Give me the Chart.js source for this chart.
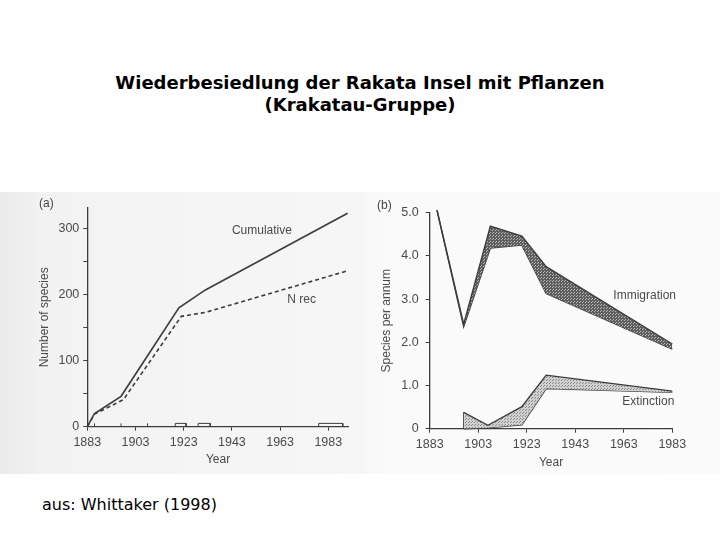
<!DOCTYPE html>
<html><head><meta charset="utf-8">
<script src="https://cdn.jsdelivr.net/npm/chart.js@4.4.1/dist/chart.umd.min.js"></script>
<style>
html,body{margin:0;padding:0;background:#fff;width:720px;height:540px;overflow:hidden}
#title{position:absolute;left:0;top:72px;width:720px;text-align:center;font-family:"DejaVu Sans";font-weight:bold;font-size:18px;line-height:22px;color:#000}
#scan{position:absolute;left:0;top:192px;width:720px;height:282px;background:linear-gradient(to right,#ebebeb 0%,#f2f2f2 6%,#f5f5f5 30%,#f6f6f6 50%,#fafafa 53%,#fbfbfb 100%)}
#wa{position:absolute;left:0;top:192px;width:360px;height:282px}
#wb{position:absolute;left:360px;top:192px;width:360px;height:282px}
.tag{position:absolute;font-family:"Liberation Sans";font-size:12px;color:#444}
#src{position:absolute;left:42px;top:495px;font-family:"DejaVu Sans";font-size:16px;color:#000}
</style></head>
<body>
<div id="title">Wiederbesiedlung der Rakata Insel mit Pflanzen<br>(Krakatau-Gruppe)</div>
<div id="scan"></div>
<div id="wa"><canvas id="ca" width="360" height="282"></canvas></div>
<div id="wb"><canvas id="cb" width="360" height="282"></canvas></div>
<div class="tag" style="left:39px;top:196px">(a)</div>
<div class="tag" style="left:377px;top:198px">(b)</div>
<div id="src">aus: Whittaker (1998)</div>
<script>
// ---------- Panel (a): number of species ----------
const cumYears   = [1883, 1886, 1897, 1921, 1932, 1991];
const cumValues  = [0, 20, 46, 180, 207, 323];
const nrecYears  = [1883, 1886, 1898, 1922, 1932, 1991];
const nrecValues = [0, 19, 41, 167, 173, 236];
const surveyTickYears = [1886, 1897, 1908];
const surveyStart = [1919.5, 1929, 1979];
const surveyEnd   = [1924, 1934, 1989];
const surveyMarkHeight = 5;
const yearTicks = [1883, 1903, 1923, 1943, 1963, 1983];
const speciesTicks = [0, 50, 100, 150, 200, 250, 300];

// ---------- Panel (b): species per annum ----------
const immYears = [1886, 1897, 1908, 1921, 1931, 1983];
const immUpper = [5.06, 2.42, 4.69, 4.46, 3.75, 1.96];
const immLower = [5.06, 2.36, 4.18, 4.25, 3.13, 1.84];
const extYears = [1897, 1907, 1921, 1931, 1983];
const extUpper = [0.38, 0.08, 0.51, 1.24, 0.87];
const extLower = [0, 0.02, 0.09, 0.93, 0.84];
const rateTicks = [0, 1, 2, 3, 4, 5];

const ink = '#3c3c3c';
const txt = '#4a4a4a';
const FONT = 'Liberation Sans';

function pts(xs, ys){ return xs.map((x,i)=>({x:x,y:ys[i]})); }
function pattern(bg, dot){
  const c=document.createElement('canvas'); c.width=3; c.height=3;
  const g=c.getContext('2d'); g.fillStyle=bg; g.fillRect(0,0,3,3);
  g.fillStyle=dot; g.fillRect(1,1,1,1); g.fillRect(0,2,1,1);
  return g.createPattern(c,'repeat');
}

const labelPlugin = {
  id:'inlabels',
  afterDatasetsDraw(chart, args, opts){
    const ctx=chart.ctx, xs=chart.scales.x, ys=chart.scales.y;
    ctx.save();
    ctx.font='12px "'+FONT+'"'; ctx.fillStyle=txt; ctx.textBaseline='middle'; ctx.textAlign='left';
    (opts.items||[]).forEach(it=>{ ctx.fillText(it.text, xs.getPixelForValue(it.x), ys.getPixelForValue(it.y)); });
    ctx.restore();
  }
};

function axisCommon(){
  return {
    grid:{display:true, drawOnChartArea:false, drawTicks:true, tickLength:4, color:ink, lineWidth:1},
    border:{display:true, color:ink, width:1.3},
    ticks:{color:txt, font:{family:FONT, size:12.5}, padding:4, maxRotation:0, autoSkip:false}
  };
}

// survey marks dataset (a)
const marks=[];
surveyTickYears.forEach(y=>{ marks.push({x:y,y:0},{x:y,y:surveyMarkHeight},{x:y,y:null}); });
surveyStart.forEach((s,i)=>{ const e=surveyEnd[i];
  marks.push({x:s,y:0},{x:s,y:surveyMarkHeight},{x:e,y:surveyMarkHeight},{x:e,y:0},{x:e,y:null}); });

const xa = axisCommon();
Object.assign(xa,{type:'linear', min:1883, max:1991.5,
  afterBuildTicks:s=>{s.ticks=yearTicks.map(v=>({value:v}));},
  afterFit:s=>{s.height=47.3;},
  title:{display:true,text:'Year',color:txt,font:{family:FONT,size:12},padding:{top:0,bottom:6.8}}});
xa.ticks.callback=v=>String(v);
const ya = axisCommon();
Object.assign(ya,{type:'linear', min:0, max:331,
  afterBuildTicks:s=>{s.ticks=speciesTicks.map(v=>({value:v}));},
  afterFit:s=>{s.width=87.3;},
  title:{display:true,text:'Number of species',color:txt,font:{family:FONT,size:12},padding:{top:37.8,bottom:0}}});
ya.ticks.callback=v=>(v%100===0?String(v):'');

new Chart(document.getElementById('ca'),{
  type:'line',
  data:{datasets:[
    {label:'Cumulative', data:pts(cumYears,cumValues), borderColor:ink, borderWidth:1.6, pointRadius:0, fill:false, tension:0, clip:false},
    {label:'N rec', data:pts(nrecYears,nrecValues), borderColor:ink, borderWidth:1.6, borderDash:[4,3], pointRadius:0, fill:false, tension:0, clip:false},
    {label:'surveys', data:marks, borderColor:ink, borderWidth:1, pointRadius:0, fill:false, spanGaps:false, clip:false}
  ]},
  options:{responsive:false, animation:false, events:[],
    layout:{padding:{left:0,top:16,right:11.2,bottom:0}},
    plugins:{legend:{display:false}, tooltip:{enabled:false},
      inlabels:{items:[{text:'Cumulative',x:1943,y:297},{text:'N rec',x:1966,y:192}]}},
    scales:{x:xa, y:ya}},
  plugins:[labelPlugin]
});

// panel (b)
const xb = axisCommon();
Object.assign(xb,{type:'linear', min:1883, max:1983,
  afterBuildTicks:s=>{s.ticks=yearTicks.map(v=>({value:v}));},
  afterFit:s=>{s.height=45.3;},
  title:{display:true,text:'Year',color:txt,font:{family:FONT,size:12},padding:{top:0,bottom:3.8}}});
xb.ticks.callback=v=>String(v);
const yb = axisCommon();
Object.assign(yb,{type:'linear', min:0, max:5,
  afterBuildTicks:s=>{s.ticks=rateTicks.map(v=>({value:v}));},
  afterFit:s=>{s.width=69.7;},
  title:{display:true,text:'Species per annum',color:txt,font:{family:FONT,size:12},padding:{top:19.5,bottom:0}}});
yb.ticks.callback=v=>(v===0?'0':v.toFixed(1));
yb.ticks.padding=7;

new Chart(document.getElementById('cb'),{
  type:'line',
  data:{datasets:[
    {label:'Immigration max', data:pts(immYears,immUpper), borderColor:ink, borderWidth:1.4, pointRadius:0, fill:'+1', backgroundColor:pattern('#5e5e5e','#b8b8b8'), tension:0, clip:false},
    {label:'Immigration min', data:pts(immYears,immLower), borderColor:ink, borderWidth:1.4, pointRadius:0, fill:false, tension:0, clip:false},
    {label:'Extinction max', data:pts(extYears,extUpper), borderColor:ink, borderWidth:1.4, pointRadius:0, fill:'+1', backgroundColor:pattern('#d0d0d0','#8a8a8a'), tension:0, clip:false},
    {label:'Extinction min', data:pts(extYears,extLower), borderColor:ink, borderWidth:1.4, pointRadius:0, fill:false, tension:0, clip:false},
    {label:'Extinction edge', data:[{x:extYears[0],y:extLower[0]},{x:extYears[0],y:extUpper[0]}], borderColor:ink, borderWidth:1.2, pointRadius:0, fill:false, clip:false}
  ]},
  options:{responsive:false, animation:false, events:[],
    layout:{padding:{left:0,top:20.7,right:47.7,bottom:0}},
    plugins:{legend:{display:false}, tooltip:{enabled:false},
      inlabels:{items:[{text:'Immigration',x:1958.7,y:3.09},{text:'Extinction',x:1962.4,y:0.62}]}},
    scales:{x:xb, y:yb}},
  plugins:[labelPlugin]
});
</script>
</body></html>
